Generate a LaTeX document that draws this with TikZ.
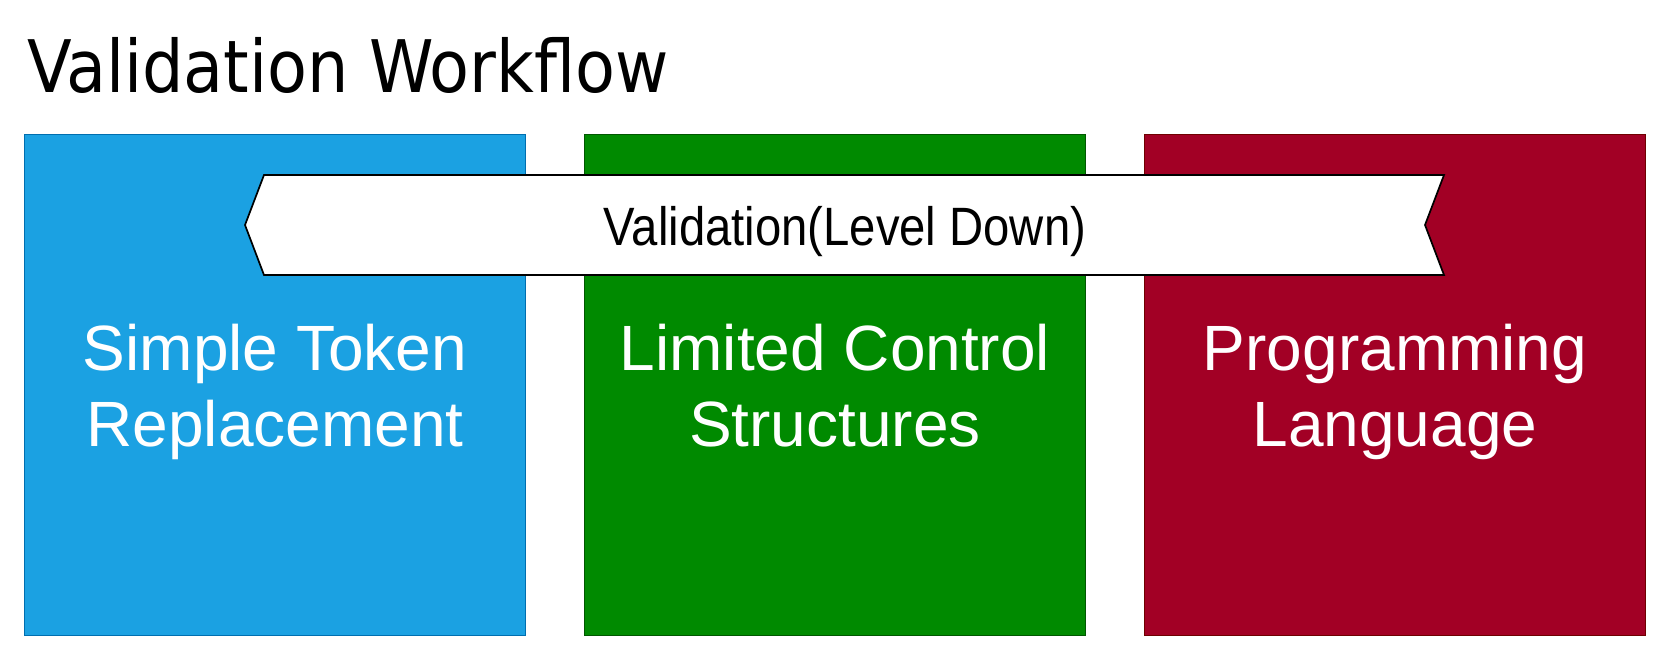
\documentclass[tikz,border=0pt]{standalone}
\usepackage{fontspec}
\setmainfont{Liberation Sans}
\newfontfamily\titlefont{DejaVu Sans Condensed}
\definecolor{bluefill}{HTML}{1BA1E2}
\definecolor{bluedraw}{HTML}{006EAF}
\definecolor{greenfill}{HTML}{008A00}
\definecolor{greendraw}{HTML}{005700}
\definecolor{redfill}{HTML}{A20025}
\definecolor{reddraw}{HTML}{6F0000}
\begin{document}
\begin{tikzpicture}[x=1pt,y=-1pt,
  levelbox/.style={line width=1.7pt},
  boxtext/.style={text=white,font=\fontsize{64}{76}\selectfont,anchor=base,inner sep=0pt},
  banner/.style={draw=black,fill=white,line width=1.7pt,line join=miter}]
\useasboundingbox (0,0) rectangle (1670,660);
% title
\node[anchor=base west,inner sep=0pt,font=\titlefont\fontsize{72.5}{86}\selectfont] (title) at (27,93) {Validation Workflow};
% boxes
\draw[levelbox,fill=bluefill,draw=bluedraw] (24.5,134.5) rectangle (525.5,635.5);
\draw[levelbox,fill=greenfill,draw=greendraw] (584.5,134.5) rectangle (1085.5,635.5);
\draw[levelbox,fill=redfill,draw=reddraw] (1144.5,134.5) rectangle (1645.5,635.5);
\node[boxtext] (t1a) at (275,370) {Simple Token};
\node[boxtext] (t1b) at (275,446) {Replacement};
\node[boxtext] (t2a) at (835,370) {Limited Control};
\node[boxtext] (t2b) at (835,446) {Structures};
\node[boxtext] (t3a) at (1395,370) {Programming};
\node[boxtext] (t3b) at (1395,446) {Language};
% banner
\draw[banner] (264,175) -- (1444,175) -- (1425,225) -- (1444,275) -- (264,275) -- (245,225) -- cycle;
\node[anchor=base,inner sep=0pt,font=\fontsize{54}{65}\selectfont] (bannertext) at (845,246) {\scalebox{0.875}[1]{Validation(Level Down)}};
\end{tikzpicture}
\end{document}
